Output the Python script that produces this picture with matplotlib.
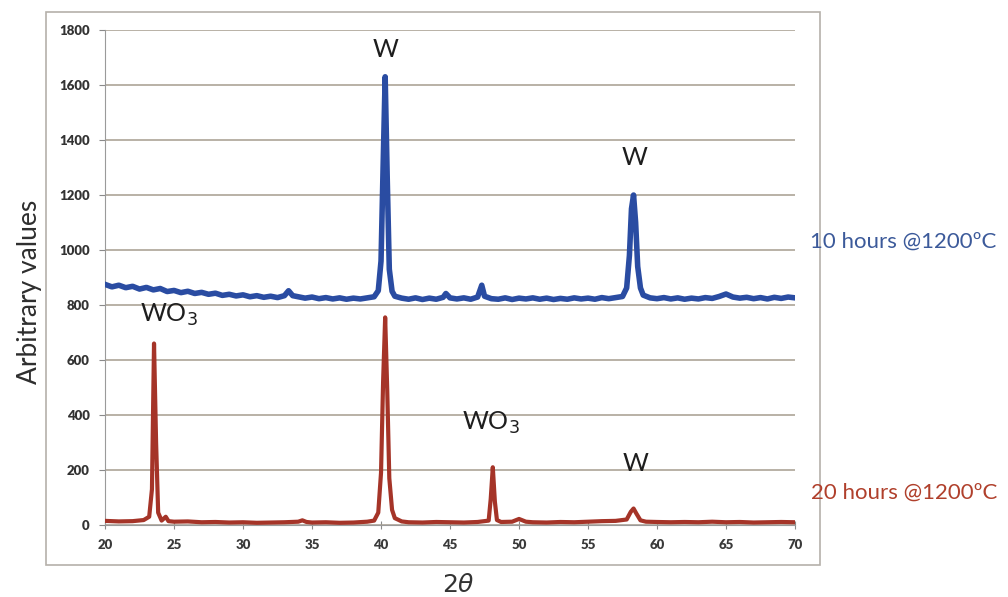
import matplotlib.pyplot as plt
from matplotlib.patches import Rectangle

plt.rcParams['font.family'] = ['Lato', 'DejaVu Sans']

# 2-theta positions and intensities, 10 h sample
x_10h = [20.0, 20.5, 21.0, 21.5, 22.0, 22.5, 23.0, 23.5, 24.0, 24.5, 25.0, 25.5,
         26.0, 26.5, 27.0, 27.5, 28.0, 28.5, 29.0, 29.5, 30.0, 30.5, 31.0, 31.5,
         32.0, 32.5, 33.0, 33.3, 33.6, 34.0, 34.5, 35.0, 35.5, 36.0, 36.5, 37.0,
         37.5, 38.0, 38.5, 39.0, 39.5, 39.8, 40.0, 40.15, 40.3, 40.45, 40.6, 40.8,
         41.0, 41.5, 42.0, 42.5, 43.0, 43.5, 44.0, 44.5, 44.7, 45.0, 45.5, 46.0,
         46.5, 47.0, 47.3, 47.5, 48.0, 48.5, 49.0, 49.5, 50.0, 50.5, 51.0, 51.5,
         52.0, 52.5, 53.0, 53.5, 54.0, 54.5, 55.0, 55.5, 56.0, 56.5, 57.0, 57.5,
         57.8, 58.0, 58.15, 58.3, 58.45, 58.6, 58.8, 59.0, 59.5, 60.0, 60.5, 61.0,
         61.5, 62.0, 62.5, 63.0, 63.5, 64.0, 64.5, 65.0, 65.5, 66.0, 66.5, 67.0,
         67.5, 68.0, 68.5, 69.0, 69.5, 70.0]
y_10h = [875, 866, 872, 863, 868, 858, 864, 855, 860, 849, 853, 845,
         850, 842, 846, 839, 843, 835, 839, 833, 837, 830, 834, 828,
         832, 827, 834, 852, 834, 830, 825, 829, 823, 827, 822, 826,
         821, 825, 822, 826, 830, 852, 960, 1300, 1630, 1260, 930, 850,
         832, 825, 821, 826, 820, 825, 821, 828, 842, 826, 822, 826,
         821, 829, 872, 832, 823, 821, 826, 820, 825, 822, 826, 821,
         825, 820, 824, 821, 826, 822, 825, 821, 827, 823, 827, 831,
         862, 980, 1150, 1200, 1100, 940, 862, 836, 826, 823, 827, 822,
         826, 821, 825, 822, 827, 824, 831, 840, 829, 825, 828, 823,
         827, 822, 828, 824, 829, 826]

# 2-theta positions and intensities, 20 h sample
x_20h = [20.0, 21.0, 22.0, 22.8, 23.2, 23.4, 23.55, 23.7, 23.85, 24.1, 24.4, 24.6,
         25.0, 26.0, 27.0, 28.0, 29.0, 30.0, 31.0, 32.0, 33.0, 34.0, 34.3, 34.6,
         35.0, 36.0, 37.0, 38.0, 39.0, 39.5, 39.8, 40.0, 40.15, 40.3, 40.45, 40.6,
         40.8, 41.0, 41.5, 42.0, 43.0, 44.0, 45.0, 46.0, 47.0, 47.8, 47.95, 48.1,
         48.25, 48.4, 48.7, 49.5, 50.0, 50.5, 51.0, 52.0, 53.0, 54.0, 55.0, 56.0,
         57.0, 57.8, 58.1, 58.3, 58.5, 58.8, 59.2, 60.0, 61.0, 62.0, 63.0, 64.0,
         65.0, 66.0, 67.0, 68.0, 69.0, 70.0]
y_20h = [15, 13, 14, 18, 30, 130, 660, 300, 45, 16, 30, 14,
         12, 13, 10, 11, 9, 10, 8, 9, 10, 12, 17, 11,
         9, 10, 8, 9, 12, 16, 45, 190, 520, 755, 490, 170,
         55, 25, 13, 10, 9, 11, 10, 9, 11, 16, 95, 210,
         85, 18, 11, 12, 22, 12, 10, 9, 11, 10, 12, 14,
         15, 20, 48, 60, 42, 17, 12, 11, 10, 11, 10, 12,
         10, 11, 9, 10, 11, 10]

x_ticks = [20, 25, 30, 35, 40, 45, 50, 55, 60, 65, 70]
y_ticks = [0, 200, 400, 600, 800, 1000, 1200, 1400, 1600, 1800]

# phase labels: text, 2-theta, height
peak_labels = [('W', 40.3, 1730), ('W', 58.4, 1335),
               ('WO$_3$', 24.65, 765), ('WO$_3$', 47.95, 372), ('W', 58.45, 222)]

fig = plt.figure(figsize=(10.08, 5.97), dpi=100)
ax = fig.add_axes([0.1042, 0.1206, 0.6845, 0.8291])

# outer chart border
fig.patches.append(Rectangle((46 / 1008, 1 - 565 / 597), 774 / 1008, 553 / 597,
                             transform=fig.transFigure, fill=False,
                             edgecolor='#b5b0aa', lw=1.2))

ax.plot(x_10h, y_10h, color='#2a4ca2', lw=4.0, solid_joinstyle='round', zorder=3)
ax.plot(x_20h, y_20h, color='#a53428', lw=3.0, solid_joinstyle='round', zorder=3)

ax.set_xlim(20, 70)
ax.set_ylim(0, 1800)
ax.set_xticks(x_ticks)
ax.set_yticks(y_ticks)
ax.grid(axis='y', color='#a59d8e', lw=1.1)
ax.set_axisbelow(True)
for s in ['top', 'right']:
    ax.spines[s].set_visible(False)
ax.spines['left'].set_color('#9a9a9a')
ax.spines['bottom'].set_color('#9a9a9a')
ax.tick_params(axis='x', direction='inout', length=6, color='#8a8a8a',
               labelsize=9.5, pad=7, labelcolor='#3a3a3a')
ax.tick_params(axis='y', direction='out', length=4, color='#8a8a8a',
               labelsize=9.5, pad=7, labelcolor='#333333')
for lab in ax.get_xticklabels() + ax.get_yticklabels():
    lab.set_fontweight('heavy')

for txt, px, py in peak_labels:
    ax.text(px, py, txt, ha='center', va='center', fontsize=18, color='#1e1e1e')

fig.text(30 / 1008, 1 - 292 / 597, 'Arbitrary values', rotation=90,
         ha='center', va='center', fontsize=19, color='#2e2e2e')
fig.text(458 / 1008, 1 - 584 / 597, r'$\mathit{2\theta}$', ha='center', va='center',
         fontsize=18, color='#333333')
fig.text(810 / 1008, 1 - 242 / 597, '10 hours @1200ºC', ha='left', va='center',
         fontsize=16, color='#3c5a9a')
fig.text(811 / 1008, 1 - 493 / 597, '20 hours @1200ºC', ha='left', va='center',
         fontsize=16, color='#b0402c')

fig.savefig('out.png', dpi=100)
